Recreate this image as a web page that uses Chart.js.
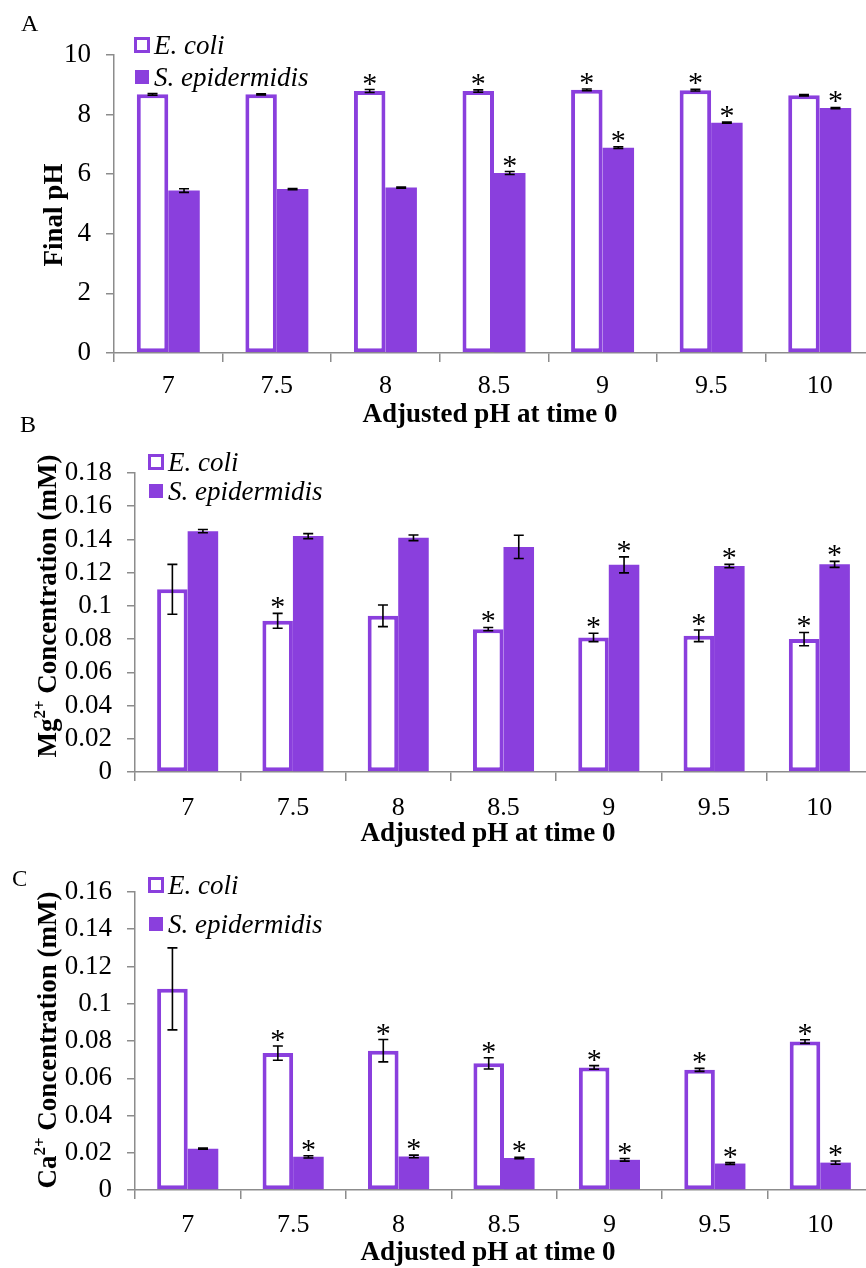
<!DOCTYPE html>
<html>
<head>
<meta charset="utf-8">
<script src="https://cdn.jsdelivr.net/npm/chart.js@4.4.1/dist/chart.umd.min.js"></script>
<style>
  html, body { margin: 0; padding: 0; background: #fff; overflow: hidden; }
  #wrap { position: relative; width: 866px; height: 1268px; overflow: hidden;
          font-family: "Liberation Serif"; color: #000; }
  canvas { position: absolute; left: 0; }
  .txt { position: absolute; white-space: nowrap; line-height: 1; }
  .letter { font-size: 24px; }
  .xtitle { font-size: 27px; font-weight: bold; transform: translateX(-50%); }
  .ytitle { font-size: 27px; font-weight: bold; transform: translate(-50%, -50%) rotate(-90deg); }
  .ytitle sup { font-size: 17px; vertical-align: 0; position: relative; top: -11px; }
  .leg { font-size: 27px; font-style: italic; }
  .sw { position: absolute; box-sizing: border-box; }
  .sw.open { width: 16px; height: 16px; border: 3.5px solid #8A3FDD; background: #fff; }
  .sw.fill { width: 14px; height: 14px; background: #8A3FDD; }
  .clipC { position: absolute; left: 10px; top: 867px; width: 16px; height: 19px; overflow: hidden; }
</style>
</head>
<body>
<div id="wrap">
  <canvas id="chartA" width="880" height="440" style="top:0"></canvas>
  <canvas id="chartB" width="880" height="460" style="top:400px"></canvas>
  <canvas id="chartC" width="880" height="438" style="top:830px"></canvas>

  <!-- panel A text -->
  <div class="txt letter" style="left:21px;top:11px">A</div>
  <div class="txt ytitle" style="left:53px;top:215px">Final pH</div>
  <div class="txt xtitle" style="left:490px;top:400px">Adjusted pH at time 0</div>
  <div class="sw open" style="left:134px;top:37px"></div>
  <div class="txt leg" style="left:154px;top:32px">E. coli</div>
  <div class="sw fill" style="left:135px;top:70px"></div>
  <div class="txt leg" style="left:154px;top:64px">S. epidermidis</div>

  <!-- panel B text -->
  <div class="txt letter" style="left:20px;top:412px">B</div>
  <div class="txt ytitle" style="left:47px;top:606px">Mg<sup>2+</sup> Concentration (mM)</div>
  <div class="txt xtitle" style="left:488px;top:819px">Adjusted pH at time 0</div>
  <div class="sw open" style="left:148px;top:454px"></div>
  <div class="txt leg" style="left:168px;top:449px">E. coli</div>
  <div class="sw fill" style="left:149px;top:484px"></div>
  <div class="txt leg" style="left:168px;top:478px">S. epidermidis</div>

  <!-- panel C text -->
  <div class="clipC"><div class="txt letter" style="left:2px;top:-1px">C</div></div>
  <div class="txt ytitle" style="left:47px;top:1040px">Ca<sup>2+</sup> Concentration (mM)</div>
  <div class="txt xtitle" style="left:488px;top:1238px">Adjusted pH at time 0</div>
  <div class="sw open" style="left:148px;top:877px"></div>
  <div class="txt leg" style="left:168px;top:872px">E. coli</div>
  <div class="sw fill" style="left:149px;top:917px"></div>
  <div class="txt leg" style="left:168px;top:911px">S. epidermidis</div>
</div>
<script>
const phLabels = ['7', '7.5', '8', '8.5', '9', '9.5', '10'];

// A: final pH
const ecoliPH = [8.68, 8.68, 8.79, 8.79, 8.83, 8.82, 8.65];
const ecoliPHErr = [0.03, 0.02, 0.05, 0.04, 0.03, 0.03, 0.02];
const ecoliPHSig = [0, 0, 1, 1, 1, 1, 0];
const sepiPH = [5.45, 5.50, 5.55, 6.04, 6.89, 7.73, 8.22];
const sepiPHErr = [0.06, 0.02, 0.02, 0.05, 0.03, 0.02, 0.02];
const sepiPHSig = [0, 0, 0, 1, 1, 1, 1];
const phTicks = [0, 2, 4, 6, 8, 10];

// B: Mg2+ (mM)
const ecoliMg = [0.110, 0.091, 0.094, 0.086, 0.081, 0.082, 0.080];
const ecoliMgErr = [0.015, 0.0045, 0.0065, 0.001, 0.0025, 0.0035, 0.004];
const ecoliMgSig = [0, 1, 0, 1, 1, 1, 1];
const sepiMg = [0.145, 0.142, 0.141, 0.1355, 0.1247, 0.124, 0.125];
const sepiMgErr = [0.001, 0.0015, 0.0017, 0.007, 0.0048, 0.001, 0.0018];
const sepiMgSig = [0, 0, 0, 0, 1, 1, 1];
const mgTicks = [0, 0.02, 0.04, 0.06, 0.08, 0.1, 0.12, 0.14, 0.16, 0.18];

// C: Ca2+ (mM)
const ecoliCa = [0.108, 0.0735, 0.0748, 0.068, 0.0658, 0.0645, 0.0797];
const ecoliCaErr = [0.022, 0.0038, 0.006, 0.003, 0.001, 0.0008, 0.001];
const ecoliCaSig = [0, 1, 1, 1, 1, 1, 1];
const sepiCa = [0.0222, 0.0178, 0.018, 0.0172, 0.0162, 0.0142, 0.0147];
const sepiCaErr = [0.0003, 0.0006, 0.0007, 0.0004, 0.0007, 0.0005, 0.0009];
const sepiCaSig = [0, 1, 1, 1, 1, 1, 1];
const caTicks = [0, 0.02, 0.04, 0.06, 0.08, 0.1, 0.12, 0.14, 0.16];

const purple = '#8A3FDD';
const axisGrey = '#8c8c8c';

// error bars with caps, and an asterisk over the significant ones
const errorBars = {
  id: 'errorBars',
  afterDatasetsDraw(chart) {
    const ctx = chart.ctx;
    const yScale = chart.scales.y;
    ctx.save();
    chart.data.datasets.forEach((ds, i) => {
      chart.getDatasetMeta(i).data.forEach((bar, j) => {
        const v = ds.data[j], e = ds.errors[j];
        const top = yScale.getPixelForValue(v + e);
        const bot = yScale.getPixelForValue(v - e);
        ctx.strokeStyle = '#000';
        ctx.lineWidth = 1.6;
        ctx.beginPath();
        ctx.moveTo(bar.x, top); ctx.lineTo(bar.x, bot);
        ctx.moveTo(bar.x - 5, top); ctx.lineTo(bar.x + 5, top);
        ctx.moveTo(bar.x - 5, bot); ctx.lineTo(bar.x + 5, bot);
        ctx.stroke();
        if (ds.stars[j]) {
          ctx.fillStyle = '#000';
          ctx.font = '30px "Liberation Serif"';
          ctx.textAlign = 'center';
          ctx.textBaseline = 'alphabetic';
          ctx.fillText('*', bar.x, top + 3);
        }
      });
    });
    ctx.restore();
  }
};

function makeChart(id, o) {
  return new Chart(document.getElementById(id), {
    type: 'bar',
    data: {
      labels: phLabels,
      datasets: [
        { label: 'E. coli', data: o.ecoli, errors: o.ecoliErr, stars: o.ecoliSig,
          backgroundColor: '#fff', borderColor: purple, borderWidth: 4, borderSkipped: false },
        { label: 'S. epidermidis', data: o.sepi, errors: o.sepiErr, stars: o.sepiSig,
          backgroundColor: purple, borderWidth: 0 }
      ]
    },
    options: {
      responsive: false,
      animation: false,
      events: [],
      layout: { padding: { left: 0, top: o.top, right: 880 - o.right, bottom: 0 } },
      datasets: { bar: { categoryPercentage: 0.58, barPercentage: 1 } },
      plugins: { legend: { display: false }, tooltip: { enabled: false } },
      scales: {
        x: {
          grid: { drawOnChartArea: false, drawTicks: true, tickLength: 9, color: axisGrey, lineWidth: 1.5 },
          border: { display: true, color: axisGrey, width: 1.5 },
          ticks: { color: '#000', font: { family: 'Liberation Serif', size: 26 }, padding: o.xPad, maxRotation: 0, autoSkip: false },
          afterFit: s => { s.height = o.canvasH - o.bottom; }
        },
        y: {
          min: 0,
          max: o.ticks[o.ticks.length - 1],
          grid: { drawOnChartArea: false, drawTicks: true, tickLength: 8, color: axisGrey, lineWidth: 1.5 },
          border: { display: true, color: axisGrey, width: 1.5 },
          afterBuildTicks: s => { s.ticks = o.ticks.map(v => ({ value: v })); },
          ticks: { color: '#000', font: { family: 'Liberation Serif', size: 27 }, padding: 15, autoSkip: false, callback: v => String(v) },
          afterFit: s => { s.width = o.left; }
        }
      }
    },
    plugins: [errorBars]
  });
}

makeChart('chartA', {
  ecoli: ecoliPH, ecoliErr: ecoliPHErr, ecoliSig: ecoliPHSig,
  sepi: sepiPH, sepiErr: sepiPHErr, sepiSig: sepiPHSig,
  ticks: phTicks, canvasH: 440, top: 55, bottom: 353, left: 114, right: 874, xPad: 9
});

makeChart('chartB', {
  ecoli: ecoliMg, ecoliErr: ecoliMgErr, ecoliSig: ecoliMgSig,
  sepi: sepiMg, sepiErr: sepiMgErr, sepiSig: sepiMgSig,
  ticks: mgTicks, canvasH: 460, top: 73, bottom: 372, left: 135, right: 872, xPad: 12
});

makeChart('chartC', {
  ecoli: ecoliCa, ecoliErr: ecoliCaErr, ecoliSig: ecoliCaSig,
  sepi: sepiCa, sepiErr: sepiCaErr, sepiSig: sepiCaSig,
  ticks: caTicks, canvasH: 438, top: 62, bottom: 360, left: 135, right: 873, xPad: 11
});
</script>
</body>
</html>
